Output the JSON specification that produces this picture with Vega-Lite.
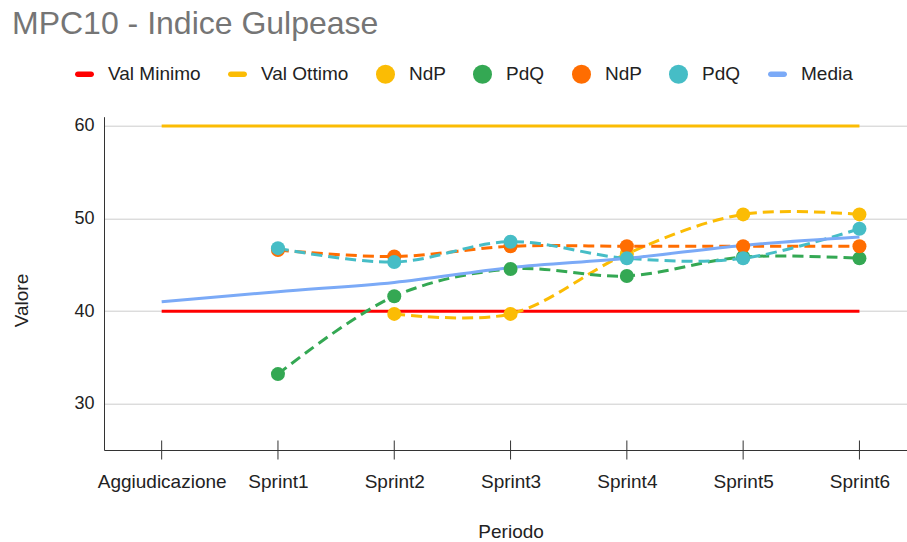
{
  "$schema": "https://vega.github.io/schema/vega-lite/v6.json",
  "width": 803,
  "height": 333.3,
  "autosize": {"type": "none"},
  "padding": {"left": 104, "top": 116.7, "right": 0, "bottom": 92},
  "background": "white",
  "title": {
    "text": "MPC10 - Indice Gulpease",
    "anchor": "start",
    "frame": "group",
    "dx": -92,
    "offset": 24,
    "font": "Liberation Sans",
    "fontSize": 32,
    "fontWeight": "normal",
    "color": "#757575"
  },
  "config": {
    "view": {"stroke": null},
    "font": "Liberation Sans"
  },
  "data": {
    "values": [
      {"periodo": "Aggiudicazione", "serie": "Val Minimo", "valore": 40},
      {"periodo": "Sprint1", "serie": "Val Minimo", "valore": 40},
      {"periodo": "Sprint2", "serie": "Val Minimo", "valore": 40},
      {"periodo": "Sprint3", "serie": "Val Minimo", "valore": 40},
      {"periodo": "Sprint4", "serie": "Val Minimo", "valore": 40},
      {"periodo": "Sprint5", "serie": "Val Minimo", "valore": 40},
      {"periodo": "Sprint6", "serie": "Val Minimo", "valore": 40},
      {"periodo": "Aggiudicazione", "serie": "Val Ottimo", "valore": 60},
      {"periodo": "Sprint1", "serie": "Val Ottimo", "valore": 60},
      {"periodo": "Sprint2", "serie": "Val Ottimo", "valore": 60},
      {"periodo": "Sprint3", "serie": "Val Ottimo", "valore": 60},
      {"periodo": "Sprint4", "serie": "Val Ottimo", "valore": 60},
      {"periodo": "Sprint5", "serie": "Val Ottimo", "valore": 60},
      {"periodo": "Sprint6", "serie": "Val Ottimo", "valore": 60},
      {"periodo": "Sprint2", "serie": "NdP", "valore": 39.7},
      {"periodo": "Sprint3", "serie": "NdP", "valore": 39.7},
      {"periodo": "Sprint4", "serie": "NdP", "valore": 46.2},
      {"periodo": "Sprint5", "serie": "NdP", "valore": 50.45},
      {"periodo": "Sprint6", "serie": "NdP", "valore": 50.45},
      {"periodo": "Sprint1", "serie": "PdQ", "valore": 33.2},
      {"periodo": "Sprint2", "serie": "PdQ", "valore": 41.6},
      {"periodo": "Sprint3", "serie": "PdQ", "valore": 44.55},
      {"periodo": "Sprint4", "serie": "PdQ", "valore": 43.8},
      {"periodo": "Sprint5", "serie": "PdQ", "valore": 45.85},
      {"periodo": "Sprint6", "serie": "PdQ", "valore": 45.7},
      {"periodo": "Sprint1", "serie": "NdP 2", "valore": 46.6},
      {"periodo": "Sprint2", "serie": "NdP 2", "valore": 45.9},
      {"periodo": "Sprint3", "serie": "NdP 2", "valore": 47.0},
      {"periodo": "Sprint4", "serie": "NdP 2", "valore": 47.0},
      {"periodo": "Sprint5", "serie": "NdP 2", "valore": 47.0},
      {"periodo": "Sprint6", "serie": "NdP 2", "valore": 47.0},
      {"periodo": "Sprint1", "serie": "PdQ 2", "valore": 46.8},
      {"periodo": "Sprint2", "serie": "PdQ 2", "valore": 45.3},
      {"periodo": "Sprint3", "serie": "PdQ 2", "valore": 47.5},
      {"periodo": "Sprint4", "serie": "PdQ 2", "valore": 45.7},
      {"periodo": "Sprint5", "serie": "PdQ 2", "valore": 45.7},
      {"periodo": "Sprint6", "serie": "PdQ 2", "valore": 48.9},
      {"periodo": "Aggiudicazione", "serie": "Media", "valore": 41.0},
      {"periodo": "Sprint1", "serie": "Media", "valore": 42.1},
      {"periodo": "Sprint2", "serie": "Media", "valore": 43.1},
      {"periodo": "Sprint3", "serie": "Media", "valore": 44.7},
      {"periodo": "Sprint4", "serie": "Media", "valore": 45.7},
      {"periodo": "Sprint5", "serie": "Media", "valore": 47.1},
      {"periodo": "Sprint6", "serie": "Media", "valore": 48.0}
    ]
  },
  "layer": [
    {
      "transform": [{"filter": {"field": "serie", "oneOf": ["Val Minimo", "Val Ottimo"]}}],
      "mark": {"type": "line", "strokeWidth": 3, "strokeCap": "butt"},
      "encoding": {
        "x": {
          "field": "periodo", "type": "ordinal",
          "scale": {"type": "point", "domain": ["Aggiudicazione", "Sprint1", "Sprint2", "Sprint3", "Sprint4", "Sprint5", "Sprint6"], "padding": 0.4524, "align": 0.548},
          "axis": {
            "title": "Periodo", "labelAngle": 0, "ticks": false, "grid": false,
            "domainColor": "#333333", "domainWidth": 1,
            "labelPadding": 22, "labelFontSize": 19, "labelColor": "#222222", "labelFont": "Liberation Sans",
            "labelOverlap": false,
            "titleFontSize": 19, "titleFontWeight": "normal", "titleColor": "#222222", "titleFont": "Liberation Sans",
            "titleX": 406.6, "titleY": 87, "titleBaseline": "alphabetic", "titleAlign": "center"
          }
        },
        "y": {
          "field": "valore", "type": "quantitative",
          "scale": {"domain": [25, 61], "nice": false, "zero": false},
          "axis": {
            "title": "Valore", "values": [30, 40, 50, 60], "grid": true, "gridColor": "#cccccc", "gridWidth": 1,
            "ticks": false, "domainColor": "#333333", "domainWidth": 1,
            "labelPadding": 10, "labelFontSize": 18, "labelColor": "#222222", "labelFont": "Liberation Sans",
            "titleFontSize": 19, "titleFontWeight": "normal", "titleColor": "#222222", "titleFont": "Liberation Sans",
            "titleX": -76.5, "titleY": 183.3, "titleBaseline": "alphabetic", "titleAngle": 270, "titleAlign": "center"
          }
        },
        "stroke": {
          "field": "serie", "type": "nominal",
          "scale": {"domain": ["Media", "PdQ 2", "NdP 2", "PdQ", "NdP", "Val Ottimo", "Val Minimo"], "range": ["#7baaf7", "#46bdc6", "#ff6d01", "#34a853", "#fbbc04", "#fbbc04", "#ff0000"]},
          "legend": null
        }
      }
    },
    {
      "transform": [{"filter": {"field": "serie", "oneOf": ["NdP", "PdQ", "NdP 2", "PdQ 2"]}}],
      "mark": {"type": "line", "strokeWidth": 3, "strokeDash": [11, 6], "interpolate": "catmull-rom", "strokeCap": "butt"},
      "encoding": {
        "x": {"field": "periodo", "type": "ordinal"},
        "y": {"field": "valore", "type": "quantitative"},
        "stroke": {"field": "serie", "type": "nominal", "legend": null}
      }
    },
    {
      "transform": [{"filter": {"field": "serie", "equal": "Media"}}],
      "mark": {"type": "line", "strokeWidth": 3, "interpolate": "catmull-rom"},
      "encoding": {
        "x": {"field": "periodo", "type": "ordinal"},
        "y": {"field": "valore", "type": "quantitative"},
        "stroke": {"field": "serie", "type": "nominal", "legend": null}
      }
    },
    {
      "transform": [{"filter": {"field": "serie", "oneOf": ["NdP", "PdQ", "NdP 2", "PdQ 2"]}}],
      "mark": {"type": "point", "filled": true, "size": 196, "opacity": 1, "strokeWidth": 0},
      "encoding": {
        "x": {"field": "periodo", "type": "ordinal"},
        "y": {"field": "valore", "type": "quantitative"},
        "color": {
          "field": "serie", "type": "nominal",
          "scale": {"domain": ["Val Minimo", "Val Ottimo", "NdP", "PdQ", "NdP 2", "PdQ 2", "Media"], "range": ["#ff0000", "#fbbc04", "#fbbc04", "#34a853", "#ff6d01", "#46bdc6", "#7baaf7"]},
          "legend": {
            "orient": "none", "legendX": -29, "legendY": -52.2, "direction": "horizontal", "columns": 7,
            "title": null, "padding": 0, "labelExpr": "replace(datum.label, ' 2', '')",
            "symbolSize": 361, "symbolStrokeWidth": 0, "symbolOpacity": 1,
            "labelOffset": 14, "columnPadding": 27, "labelFontSize": 19, "labelFont": "Liberation Sans", "labelColor": "#222222"
          }
        },
        "shape": {
          "field": "serie", "type": "nominal",
          "scale": {
            "domain": ["Val Minimo", "Val Ottimo", "NdP", "PdQ", "NdP 2", "PdQ 2", "Media"],
            "range": [
              "M-0.7,-0.3H0.7A0.3,0.3 0 0 1 0.7,0.3H-0.7A0.3,0.3 0 0 1 -0.7,-0.3Z",
              "M-0.7,-0.3H0.7A0.3,0.3 0 0 1 0.7,0.3H-0.7A0.3,0.3 0 0 1 -0.7,-0.3Z",
              "circle", "circle", "circle", "circle",
              "M-0.7,-0.3H0.7A0.3,0.3 0 0 1 0.7,0.3H-0.7A0.3,0.3 0 0 1 -0.7,-0.3Z"
            ]
          },
          "legend": {
            "orient": "none", "legendX": -29, "legendY": -52.2, "direction": "horizontal", "columns": 7,
            "title": null, "padding": 0, "labelExpr": "replace(datum.label, ' 2', '')",
            "symbolSize": 361, "symbolStrokeWidth": 0, "symbolOpacity": 1,
            "labelOffset": 14, "columnPadding": 27, "labelFontSize": 19, "labelFont": "Liberation Sans", "labelColor": "#222222"
          }
        }
      }
    },
    {
      "data": {"values": [
        {"periodo": "Aggiudicazione"}, {"periodo": "Sprint1"}, {"periodo": "Sprint2"}, {"periodo": "Sprint3"},
        {"periodo": "Sprint4"}, {"periodo": "Sprint5"}, {"periodo": "Sprint6"}
      ]},
      "mark": {"type": "tick", "orient": "vertical", "size": 19, "thickness": 1, "color": "#333333", "opacity": 1},
      "encoding": {
        "x": {"field": "periodo", "type": "ordinal"},
        "y": {"datum": 25, "type": "quantitative"}
      }
    }
  ]
}
